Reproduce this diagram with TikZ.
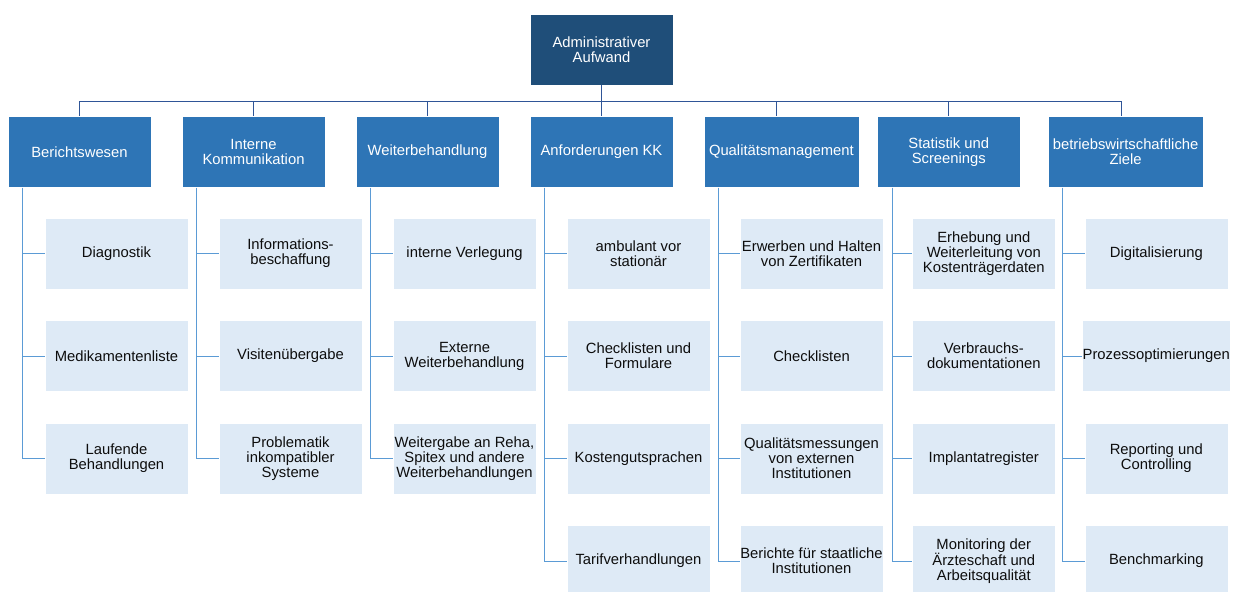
\documentclass[tikz,border=0pt]{standalone}
\usepackage{fontspec}
\setmainfont{Liberation Sans}
\usepackage{xcolor}
\definecolor{rootblue}{RGB}{31,78,121}
\definecolor{midblue}{RGB}{46,117,182}
\definecolor{paleblue}{RGB}{222,234,246}
\definecolor{busblue}{RGB}{47,85,151}
\definecolor{leafline}{RGB}{91,155,213}
\usetikzlibrary{positioning, calc}
\tikzstyle{RootBox} = [
fill=rootblue, draw=white, line width=0.5pt,
minimum width=143pt, minimum height=71pt,
text=white, align=center, inner xsep=5pt,
font=\fontsize{14.8pt}{15pt}\selectfont]
\tikzstyle{TopBox} = [
fill=midblue, draw=white, line width=0.5pt,
minimum width=143pt, minimum height=71pt,
text=white, align=center, inner xsep=5pt,
font=\fontsize{14.8pt}{15pt}\selectfont]
\tikzstyle{LeafBox} = [
fill=paleblue, draw=white, line width=0.5pt,
minimum width=143pt, minimum height=71pt,
text=black!95, align=center, inner xsep=0pt,
font=\fontsize{14.8pt}{15pt}\selectfont]
\tikzstyle{Bus} = [line width=1pt, busblue]
\tikzstyle{Leg} = [line width=1pt, leafline]

\begin{document}
\begin{tikzpicture}[node distance=31pt]
    \useasboundingbox (0,0) rectangle (1235pt,-592pt);
    \node [RootBox] (root) at (601.5pt,-49.5pt) {Administrativer\\Aufwand};

    \node [TopBox, below =of root] (4) {Anforderungen KK};
    \node [TopBox, left =30.5pt of 4] (3) {Weiterbehandlung};
    \node [TopBox, left =30.5pt of 3] (2) {Interne\\Kommunikation};
    \node [TopBox, left =30.5pt of 2] (1) {Berichtswesen};
    \node [TopBox, right =30.5pt of 4] (5) {Qualitätsmanagement};
    \node [TopBox, right =18pt of 5] (6) {Statistik und\\Screenings};
    \node [TopBox, right =27pt of 6] (7) {betriebswirtschaftliche\\Ziele};

    \coordinate [below =16pt of root.south] (bus);
    \draw[Bus] (root.south)--(bus);
    \draw[Bus] (bus) -| (1.north);
    \draw[Bus] (bus) -| (2.north);
    \draw[Bus] (bus) -| (3.north);
    \draw[Bus] (bus) -| (4.north);
    \draw[Bus] (bus) -| ([xshift=-5pt]5.north);
    \draw[Bus] (bus) -| (6.north);
    \draw[Bus] (bus) -| ([xshift=-4pt]7.north);

    % Berichtswesen
    \node [LeafBox, below right =30pt and 37pt of 1.south west] (1a) {Diagnostik};
    \node [LeafBox, below =of 1a] (1b) {Medikamentenliste};
    \node [LeafBox, below =of 1b] (1c) {Laufende\\Behandlungen};
    % Interne Kommunikation
    \node [LeafBox, below right =30pt and 37pt of 2.south west] (2a) {Informations-\\beschaffung};
    \node [LeafBox, below =of 2a] (2b) {Visitenübergabe};
    \node [LeafBox, below =of 2b] (2c) {Problematik\\inkompatibler\\Systeme};
    % Weiterbehandlung
    \node [LeafBox, below right =30pt and 37pt of 3.south west] (3a) {interne Verlegung};
    \node [LeafBox, below =of 3a] (3b) {Externe\\Weiterbehandlung};
    \node [LeafBox, below =of 3b] (3c) {Weitergabe an Reha,\\Spitex und andere\\Weiterbehandlungen};
    % Anforderungen KK
    \node [LeafBox, below right =30pt and 37pt of 4.south west] (4a) {ambulant vor\\stationär};
    \node [LeafBox, below =of 4a] (4b) {Checklisten und\\Formulare};
    \node [LeafBox, below =of 4b] (4c) {Kostengutsprachen};
    \node [LeafBox, below =of 4c] (4d) {Tarifverhandlungen};
    % Qualitaetsmanagement
    \node [LeafBox, below right =30pt and 36pt of 5.south west] (5a) {Erwerben und Halten\\von Zertifikaten};
    \node [LeafBox, below =of 5a] (5b) {Checklisten};
    \node [LeafBox, below =of 5b] (5c) {Qualitätsmessungen\\von externen\\Institutionen};
    \node [LeafBox, below =of 5c] (5d) {Berichte für staatliche\\Institutionen};
    % Statistik und Screenings
    \node [LeafBox, below right =30pt and 35pt of 6.south west] (6a) {Erhebung und\\Weiterleitung von\\Kostenträgerdaten};
    \node [LeafBox, below =of 6a] (6b) {Verbrauchs-\\dokumentationen};
    \node [LeafBox, below =of 6b] (6c) {Implantatregister};
    \node [LeafBox, below =of 6c] (6d) {Monitoring der\\Ärzteschaft und\\Arbeitsqualität};
    % betriebswirtschaftliche Ziele
    \node [LeafBox, below right =30pt and 37pt of 7.south west] (7a) {Digitalisierung};
    \node [LeafBox, below =of 7a] (7b) {Prozessoptimierungen};
    \node [LeafBox, below =of 7b] (7c) {Reporting und\\Controlling};
    \node [LeafBox, below =of 7c] (7d) {Benchmarking};

    \draw[Leg] ([xshift=15pt]1.south west) |- (1a.west);
    \draw[Leg] ([xshift=15pt]1.south west) |- (1b.west);
    \draw[Leg] ([xshift=15pt]1.south west) |- (1c.west);
    \draw[Leg] ([xshift=15pt]2.south west) |- (2a.west);
    \draw[Leg] ([xshift=15pt]2.south west) |- (2b.west);
    \draw[Leg] ([xshift=15pt]2.south west) |- (2c.west);
    \draw[Leg] ([xshift=15pt]3.south west) |- (3a.west);
    \draw[Leg] ([xshift=15pt]3.south west) |- (3b.west);
    \draw[Leg] ([xshift=15pt]3.south west) |- (3c.west);
    \draw[Leg] ([xshift=15pt]4.south west) |- (4a.west);
    \draw[Leg] ([xshift=15pt]4.south west) |- (4b.west);
    \draw[Leg] ([xshift=15pt]4.south west) |- (4c.west);
    \draw[Leg] ([xshift=15pt]4.south west) |- (4d.west);
    \draw[Leg] ([xshift=15pt]5.south west) |- (5a.west);
    \draw[Leg] ([xshift=15pt]5.south west) |- (5b.west);
    \draw[Leg] ([xshift=15pt]5.south west) |- (5c.west);
    \draw[Leg] ([xshift=15pt]5.south west) |- (5d.west);
    \draw[Leg] ([xshift=15pt]6.south west) |- (6a.west);
    \draw[Leg] ([xshift=15pt]6.south west) |- (6b.west);
    \draw[Leg] ([xshift=15pt]6.south west) |- (6c.west);
    \draw[Leg] ([xshift=15pt]6.south west) |- (6d.west);
    \draw[Leg] ([xshift=15pt]7.south west) |- (7a.west);
    \draw[Leg] ([xshift=15pt]7.south west) |- (7b.west);
    \draw[Leg] ([xshift=15pt]7.south west) |- (7c.west);
    \draw[Leg] ([xshift=15pt]7.south west) |- (7d.west);
\end{tikzpicture}
\end{document}
